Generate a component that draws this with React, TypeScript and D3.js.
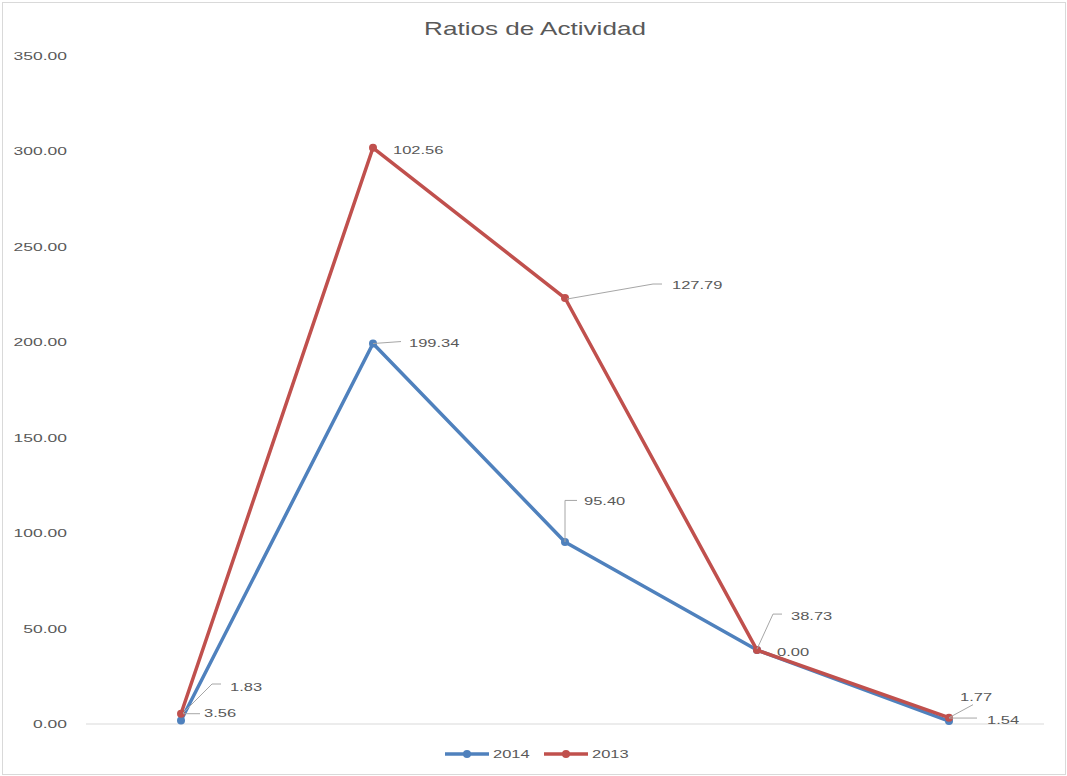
import React from "react";
import * as d3 from "d3";

const categories = ["c1", "c2", "c3", "c4", "c5"];
const series2014 = [1.83, 199.34, 95.4, 38.73, 1.54];
const series2013 = [3.56, 102.56, 127.79, 0.0, 1.77];
const yTicks = [0, 50, 100, 150, 200, 250, 300, 350];
const seriesNames = ["2014", "2013"];
const seriesColors = ["#4F81BD", "#C0504D"];

// label layout: offsets from the labelled point (text left/baseline, leader polyline)
const labelLayout2014 = [
  { dx: 49, dy: -30, leader: [[2, -7.5], [31, -36.5], [40, -36.5]] },
  { dx: 36, dy: 3.5, leader: [[0, 0], [28, -2]] },
  { dx: 19, dy: -37, leader: [[0, 0], [0, -41.5], [12, -41.5]] },
  { dx: 34, dy: -30.5, leader: [[0, -1], [16, -36], [25, -36]] },
  { dx: 38, dy: 3, leader: [[0, -3], [28, -3]] },
];
const labelLayout2013 = [
  { dx: 23, dy: 3.6, leader: [[2, 0], [19, 0]] },
  { dx: 20, dy: 5.7, leader: null },
  { dx: 107, dy: -9, leader: [[2, 1], [88, -14], [97, -14]] },
  { dx: 20, dy: 5.6, leader: null },
  { dx: 11, dy: -17, leader: [[0, 0], [24, -13]] },
];

const W = 1067;
const H = 776;
const plot = { left: 85, right: 1045, top: 56, bottom: 724 };
const FONT = "'Liberation Sans', Arial, sans-serif";
const TEXT = "#595959";
const SX = 1.5;

export default function App() {
  const x = d3
    .scaleBand<string>()
    .domain(categories)
    .range([plot.left, plot.right]);
  const y = d3.scaleLinear().domain([0, 350]).range([plot.bottom, plot.top]);

  const stacked2013 = series2013.map((v, i) => v + series2014[i]);
  const cx = (i: number) => (x(categories[i]) as number) + x.bandwidth() / 2;

  const line = d3
    .line<number>()
    .x((_, i) => cx(i))
    .y((d) => y(d));

  const fmt = d3.format(".2f");

  const seriesData = [
    { vals: series2014, pos: series2014, layout: labelLayout2014 },
    { vals: series2013, pos: stacked2013, layout: labelLayout2013 },
  ];

  const label = (
    text: string,
    tx: number,
    ty: number,
    anchor: "start" | "end" | "middle",
    size: number,
    sx: number,
    key?: string
  ) => (
    <text
      key={key}
      transform={`translate(${tx},${ty}) scale(${sx},1)`}
      textAnchor={anchor}
      fontFamily={FONT}
      fontSize={size}
      fill={TEXT}
    >
      {text}
    </text>
  );

  return (
    <svg
      width={W}
      height={H}
      style={{ position: "absolute", left: 0, top: 0, background: "#fff" }}
    >
      <rect x={2.5} y={2.5} width={1063} height={772} fill="#fff" stroke="#d9d9d9" />
      {label("Ratios de Actividad", 535, 35, "middle", 18.5, 1.41)}

      {yTicks.map((t) => label(fmt(t), 67, y(t) + 4, "end", 11.5, 1.52, "t" + t))}

      <line
        x1={plot.left + 1}
        x2={plot.right - 1}
        y1={y(0)}
        y2={y(0)}
        stroke="#d9d9d9"
        strokeWidth={1}
      />

      {seriesData.map((s, si) => (
        <g key={"s" + si}>
          <path
            d={line(s.pos) || ""}
            fill="none"
            stroke={seriesColors[si]}
            strokeWidth={3.5}
            strokeLinejoin="round"
          />
          {s.pos.map((v, i) => (
            <circle key={i} cx={cx(i)} cy={y(v)} r={4} fill={seriesColors[si]} />
          ))}
        </g>
      ))}

      {seriesData.map((s, si) => (
        <g key={"l" + si}>
          {s.vals.map((v, i) => {
            const px = cx(i);
            const py = y(s.pos[i]);
            const lay = s.layout[i];
            return (
              <g key={i}>
                {lay.leader && (
                  <polyline
                    points={lay.leader.map(([a, b]) => `${px + a},${py + b}`).join(" ")}
                    fill="none"
                    stroke="#a6a6a6"
                    strokeWidth={1}
                  />
                )}
                {label(fmt(v), px + lay.dx, py + lay.dy, "start", 11, SX)}
              </g>
            );
          })}
        </g>
      ))}

      {seriesNames.map((n, i) => {
        const lx = 445 + i * 99;
        return (
          <g key={"lg" + i}>
            <line
              x1={lx}
              x2={lx + 44}
              y1={754}
              y2={754}
              stroke={seriesColors[i]}
              strokeWidth={3.5}
            />
            <circle cx={lx + 22} cy={754} r={4} fill={seriesColors[i]} />
            {label(n, lx + 48, 758, "start", 11, SX)}
          </g>
        );
      })}
    </svg>
  );
}
